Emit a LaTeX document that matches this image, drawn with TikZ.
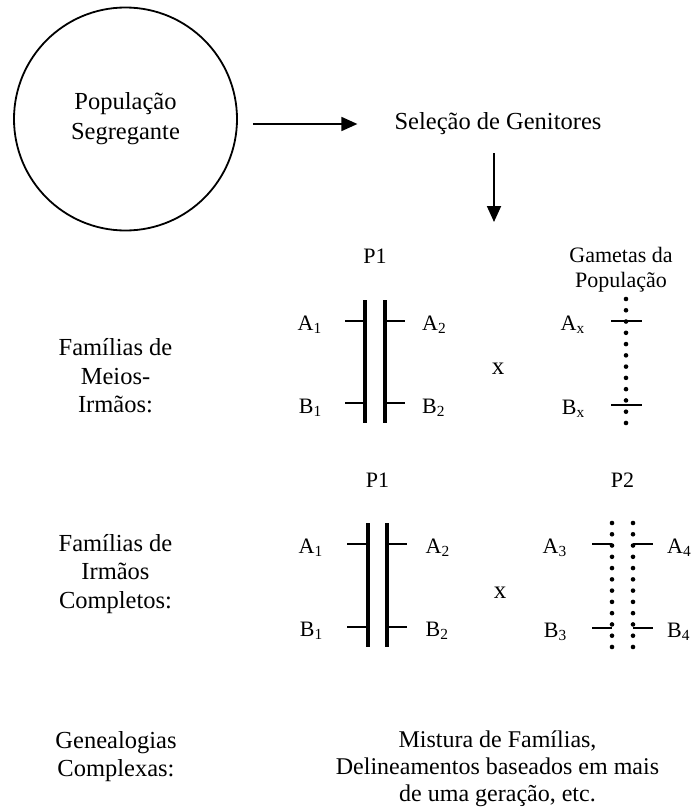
\documentclass[tikz,border=0pt]{standalone}
\usepackage{fontspec}
\setmainfont{Liberation Serif}
\usepackage{tikz}
\usetikzlibrary{arrows.meta}

\begin{document}
\begin{tikzpicture}[x=1pt,y=-1pt,
    big/.style={font=\fontsize{24.5}{28.5}\selectfont, align=center, inner sep=0pt},
    small/.style={font=\fontsize{22}{25}\selectfont, align=center, inner sep=0pt},
    cross/.style={font=\fontsize{25}{28}\selectfont, inner sep=0pt},
    arr/.style={line width=1.8pt, -{Triangle[length=16pt,width=14pt]}},
    chrom/.style={line width=3.3pt},
    allele/.style={line width=1.8pt},
    gamline/.style={line width=4.6pt, line cap=round, dash pattern=on 0pt off 11.27pt}]
        \useasboundingbox (0,0) rectangle (691,808);
        \node[circle, draw, line width=1.8pt, minimum size=223pt, big, font=\fontsize{24.5}{30}\selectfont] (pop) at (125.5,119) {População\\Segregante};
        \node[big] (sel) at (498,124) {Seleção de Genitores};
        \coordinate (selend) at (494,222);
        \draw[arr, shorten <=15pt, shorten >=37pt] (pop.east |- sel.west) -- (sel.west);
        \draw[arr, shorten <=18pt] (selend |- sel.south) -- (selend);
        \node[big] (meios) at (115.5,376) {Famílias de\\Meios-\\Irmãos:};
        \node[small] (p1a) at (375,256) {P1};
        \draw[chrom] (365,300) -- (365,423);
        \draw[chrom] (385,300) -- (385,423);
        \draw[allele] (345,321) -- (365,321); \draw[allele] (385,321) -- (405,321);
        \draw[allele] (345,403) -- (365,403); \draw[allele] (385,403) -- (405,403);
        \node[small, anchor=east] (a1m) at (322,324.5) {A\textsubscript{1}};
        \node[small, anchor=west] (a2m) at (422,324.5) {A\textsubscript{2}};
        \node[small, anchor=east] (b1m) at (322,407.5) {B\textsubscript{1}};
        \node[small, anchor=west] (b2m) at (422,407.5) {B\textsubscript{2}};
        \node[cross] (xm) at (498,369) {x};
        \node[small] (gam) at (621,270) {Gametas da\\População};
        \draw[gamline] (626,299) -- (626,423.5);
        \draw[allele] (611,321) -- (642,321);
        \draw[allele] (611,405) -- (642,405);
        \node[small, anchor=east] (axm) at (585,324.5) {A\textsubscript{x}};
        \node[small, anchor=east] (bxm) at (585,408.5) {B\textsubscript{x}};
        \node[big] (irmaos) at (115.5,574) {Famílias de\\Irmãos\\Completos:};
        \node[small] (p1c) at (377.5,480) {P1};
        \node[small] (p2c) at (622.5,480) {P2};
        \draw[chrom] (368,523) -- (368,647);
        \draw[chrom] (387,523) -- (387,647);
        \draw[allele] (347,544) -- (368,544); \draw[allele] (387,544) -- (407,544);
        \draw[allele] (347,627) -- (368,627); \draw[allele] (387,627) -- (407,627);
        \node[small, anchor=east] (a1c) at (323,547.5) {A\textsubscript{1}};
        \node[small, anchor=west] (a2c) at (425.5,547.5) {A\textsubscript{2}};
        \node[small, anchor=east] (b1c) at (323,630.5) {B\textsubscript{1}};
        \node[small, anchor=west] (b2c) at (425.5,630.5) {B\textsubscript{2}};
        \node[cross] (xc) at (500,592.5) {x};
        \draw[gamline] (612,523) -- (612,647.5);
        \draw[gamline] (633,523) -- (633,647.5);
        \draw[allele] (592,544) -- (612,544); \draw[allele] (633,544) -- (653,544);
        \draw[allele] (592,628) -- (612,628); \draw[allele] (633,628) -- (653,628);
        \node[small, anchor=east] (a3c) at (567,547.5) {A\textsubscript{3}};
        \node[small, anchor=west] (a4c) at (667,547.5) {A\textsubscript{4}};
        \node[small, anchor=east] (b3c) at (567,631.5) {B\textsubscript{3}};
        \node[small, anchor=west] (b4c) at (667,631.5) {B\textsubscript{4}};
        \node[big] (geneal) at (116,756.5) {Genealogias\\Complexas:};
        \node[big, font=\fontsize{24}{27}\selectfont] (mist) at (497.5,768.5) {Mistura de Famílias,\\Delineamentos baseados em mais\\de uma geração, etc.};
      \end{tikzpicture}
\end{document}
